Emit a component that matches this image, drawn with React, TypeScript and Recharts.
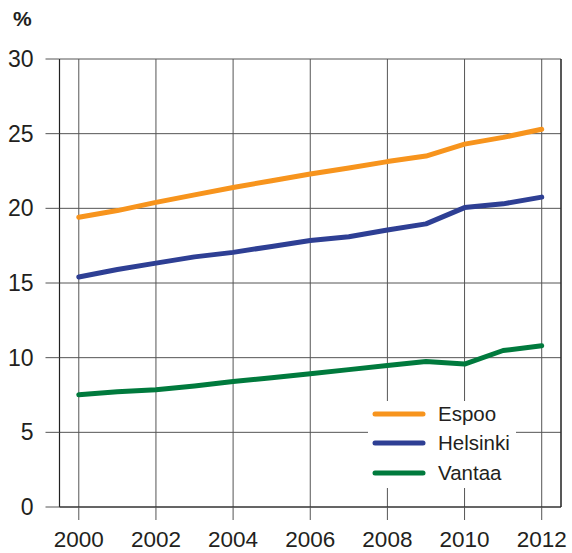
import React from 'react';
import { LineChart, Line, XAxis, YAxis, CartesianGrid, Legend, ReferenceLine } from 'recharts';

const years = [2000, 2001, 2002, 2003, 2004, 2005, 2006, 2007, 2008, 2009, 2010, 2011, 2012];
const espoo = [19.4, 19.85, 20.4, 20.9, 21.4, 21.85, 22.3, 22.7, 23.13, 23.5, 24.3, 24.75, 25.3];
const helsinki = [15.4, 15.9, 16.33, 16.75, 17.05, 17.45, 17.85, 18.1, 18.55, 18.96, 20.05, 20.3, 20.75];
const vantaa = [7.52, 7.72, 7.85, 8.1, 8.4, 8.65, 8.92, 9.2, 9.48, 9.75, 9.57, 10.48, 10.8];
const xTicks = [2000, 2002, 2004, 2006, 2008, 2010, 2012];
const yTicks = [0, 5, 10, 15, 20, 25, 30];
const seriesNames = ['Espoo', 'Helsinki', 'Vantaa'];
const colors = ['#F7941D', '#2E3F94', '#007A3D'];

const data = years.map((y, i) => ({ year: y, Espoo: espoo[i], Helsinki: helsinki[i], Vantaa: vantaa[i] }));

const FONT = '"Liberation Sans", Arial, sans-serif';

const LegendContent = (props: any) => {
  const payload = props.payload || [];
  return (
    <div style={{ background: '#fff', width: 148, height: 87, position: 'relative' }}>
      {payload.map((p: any, i: number) => (
        <div key={p.value} style={{ position: 'absolute', left: 0, top: 2 + i * 29.3, height: 22, display: 'flex', alignItems: 'center' }}>
          <svg width={60} height={10} style={{ display: 'block' }}>
            <line x1={7} y1={5} x2={55} y2={5} stroke={p.color} strokeWidth={5} strokeLinecap="round" />
          </svg>
          <span style={{ marginLeft: 10, fontFamily: FONT, fontSize: 20.5, color: '#231f20', lineHeight: '22px' }}>{p.value}</span>
        </div>
      ))}
    </div>
  );
};

export default function App() {
  return (
    <div style={{ position: 'absolute', left: 0, top: 0, width: 572, height: 553, background: '#fff' }}>
      <div style={{ position: 'absolute', left: 13, top: 7, fontFamily: FONT, fontSize: 21, fontWeight: 'bold', color: '#231f20' }}>%</div>
      <LineChart width={572} height={553} data={data} margin={{ top: 59, right: 11, bottom: 0, left: 0 }}>
        <CartesianGrid stroke="#555" strokeWidth={1} />
        <XAxis
          dataKey="year"
          type="number"
          domain={[1999.5, 2012.5]}
          ticks={xTicks}
          allowDataOverflow
          tickSize={13}
          tickMargin={11}
          axisLine={{ stroke: '#222', strokeWidth: 1.2 }}
          tickLine={{ stroke: '#555' }}
          tick={{ fontFamily: FONT, fontSize: 22.5, fill: '#231f20' }}
          height={46}
        />
        <YAxis
          type="number"
          domain={[0, 30]}
          ticks={yTicks}
          width={59.5}
          tickSize={14}
          tickMargin={12}
          axisLine={{ stroke: '#222', strokeWidth: 1.2 }}
          tickLine={{ stroke: '#555' }}
          tick={{ fontFamily: FONT, fontSize: 23, fill: '#231f20' }}
        />
        <ReferenceLine x={2012.5} stroke="#222" strokeWidth={1.2} ifOverflow="extendDomain" />
        <Legend
          layout="vertical"
          align="center"
          verticalAlign="middle"
          content={<LegendContent />}
          wrapperStyle={{ left: 368, top: 401, width: 148, height: 87 }}
        />
        {seriesNames.map((n, i) => (
          <Line key={n} type="linear" dataKey={n} stroke={colors[i]} strokeWidth={5} strokeLinecap="round" strokeLinejoin="round" dot={false} isAnimationActive={false} />
        ))}
      </LineChart>
    </div>
  );
}
